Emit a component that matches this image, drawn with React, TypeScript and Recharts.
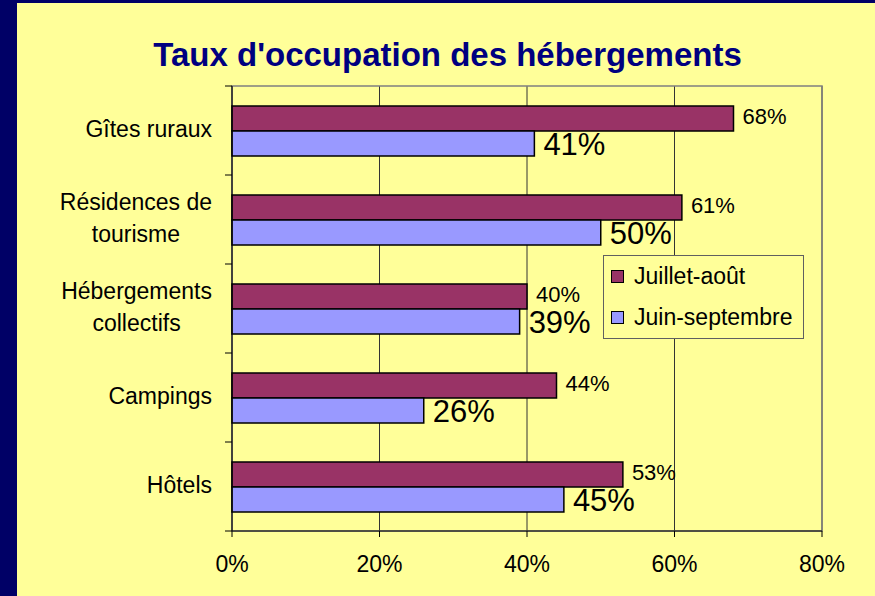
import { BarChart, Bar, XAxis, YAxis, CartesianGrid, Legend, LabelList, ReferenceArea } from "recharts";

const categories = ["Gîtes ruraux", "Résidences de\ntourisme", "Hébergements\ncollectifs", "Campings", "Hôtels"];
const julyAugust = [68, 61, 40, 44, 53];
const juneSeptember = [41, 50, 39, 26, 45];
const xTicks = [0, 20, 40, 60, 80];

const FONT = "'Liberation Sans', Arial, sans-serif";
const W = 875;
const H = 596;
const TOP = 86;
const RIGHT = 53;
const XAXIS_H = 65;
const YAXIS_W = 232;
const BAND = (H - TOP - XAXIS_H) / categories.length;

const data = categories.map((name, i) => ({ name, ja: julyAugust[i], js: juneSeptember[i] }));

let ctx: CanvasRenderingContext2D | null = null;
const textWidth = (s: string, font: string) => {
  if (!ctx) ctx = document.createElement("canvas").getContext("2d");
  if (!ctx) return s.length * 12;
  ctx.font = font;
  return ctx.measureText(s).width;
};

// category labels: right aligned block, lines centred inside it, ticks on band edges
function CategoryTick({ y, payload, index }: any) {
  const lines = String(payload.value).split("\n");
  const maxW = Math.max(...lines.map((l) => textWidth(l, `23px ${FONT}`)));
  const cx = YAXIS_W - 20 - maxW / 2;
  const first = y + 6 - (lines.length - 1) * 16;
  return (
    <g>
      <line x1={YAXIS_W - 7} x2={YAXIS_W} y1={y - BAND / 2} y2={y - BAND / 2} stroke="#000" />
      {index === categories.length - 1 && (
        <line x1={YAXIS_W - 7} x2={YAXIS_W} y1={y + BAND / 2} y2={y + BAND / 2} stroke="#000" />
      )}
      <text textAnchor="middle" fontSize={23} fontFamily={FONT} fill="#000">
        {lines.map((l, i) => (
          <tspan key={i} x={cx} y={first + i * 32}>{l}</tspan>
        ))}
      </text>
    </g>
  );
}

function LegendBox({ payload }: any) {
  return (
    <div style={{ boxSizing: "border-box", width: 201, height: 84, border: "1px solid #606060", background: "#FFFF99", position: "relative", fontFamily: FONT, fontSize: 23 }}>
      {(payload || []).map((e: any, i: number) => (
        <div key={i} style={{ position: "absolute", left: 7, top: 7 + i * 41, height: 26, display: "flex", alignItems: "center" }}>
          <span style={{ display: "inline-block", width: 11, height: 11, background: e.color, border: "1.5px solid #000", marginRight: 10 }} />
          <span style={{ lineHeight: "26px", color: "#000", whiteSpace: "nowrap" }}>{e.value}</span>
        </div>
      ))}
    </div>
  );
}

export default function App() {
  return (
    <div style={{ position: "fixed", left: 0, top: 0, width: "100vw", height: "100vh", background: "#FFFF99", overflow: "hidden" }}>
      {/* navy frame on the left and top only */}
      <div style={{ position: "absolute", left: 0, top: 0, width: 17, height: "100%", background: "#000066" }} />
      <div style={{ position: "absolute", left: 0, top: 0, width: "100%", height: 3, background: "#000066" }} />
      <div style={{ position: "absolute", left: 20, top: 38, width: 855, textAlign: "center", fontFamily: FONT, fontWeight: "bold", fontSize: 33, lineHeight: "33px", color: "#000080", whiteSpace: "nowrap" }}>
        Taux d'occupation des hébergements
      </div>
      <div style={{ position: "absolute", left: 0, top: 0 }}>
        <BarChart width={W} height={H} data={data} layout="vertical" margin={{ top: TOP, right: RIGHT, bottom: 0, left: 0 }} barGap={0}>
          <CartesianGrid horizontal={false} stroke="#333" />
          <ReferenceArea x1={0} x2={80} fill="none" stroke="#808080" strokeWidth={1.5} />
          <XAxis
            type="number"
            domain={[0, 80]}
            ticks={xTicks}
            tickFormatter={(v) => `${v}%`}
            tick={{ fontSize: 23, fill: "#000", fontFamily: FONT }}
            tickSize={6}
            tickMargin={19}
            axisLine={{ stroke: "#000" }}
            tickLine={{ stroke: "#000" }}
            height={XAXIS_H}
          />
          <YAxis
            type="category"
            dataKey="name"
            width={YAXIS_W}
            interval={0}
            tick={<CategoryTick />}
            tickLine={false}
            axisLine={{ stroke: "#000" }}
          />
          <Legend layout="vertical" align="center" verticalAlign="middle" content={<LegendBox />} wrapperStyle={{ left: 603, top: 255, width: 201, height: 84 }} />
          <Bar dataKey="ja" name="Juillet-août" fill="#993366" stroke="#000" strokeWidth={1.5} barSize={25} isAnimationActive={false}>
            <LabelList dataKey="ja" position="right" offset={9} formatter={(v: any) => `${v}%`} fill="#000" fontSize={22} fontFamily={FONT} dy={-2} />
          </Bar>
          <Bar dataKey="js" name="Juin-septembre" fill="#9999FF" stroke="#000" strokeWidth={1.5} barSize={25} isAnimationActive={false}>
            <LabelList dataKey="js" position="right" offset={9} formatter={(v: any) => `${v}%`} fill="#000" fontSize={31} fontFamily={FONT} />
          </Bar>
        </BarChart>
      </div>
    </div>
  );
}
